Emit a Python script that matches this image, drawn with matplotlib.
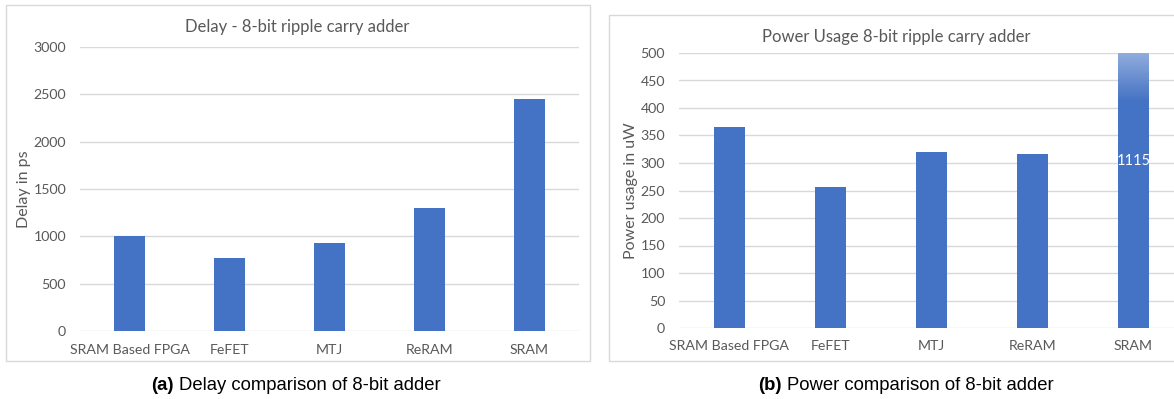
import numpy as np
import matplotlib
matplotlib.use("Agg")
import matplotlib.pyplot as plt
from matplotlib.patches import Rectangle

# Data
technologies = ["SRAM Based FPGA", "FeFET", "MTJ", "ReRAM", "SRAM"]
delay_ps = [1000, 768, 926, 1295, 2446]
power_uw = [366, 256, 320, 317, 1115]
delay_ticks = [0, 500, 1000, 1500, 2000, 2500, 3000]
power_ticks = [0, 50, 100, 150, 200, 250, 300, 350, 400, 450, 500]

BAR = "#4472C4"
TEXT = "#595959"
GRID = "#D9D9D9"
FONT = "Lato"

W, H = 1174, 399
fig = plt.figure(figsize=(W / 100, H / 100), dpi=100)
fig.patch.set_facecolor("white")


def fx(px):
    return px / W


def fy(py):
    return (H - py) / H


# Chart-area borders
for x0, x1, y0, y1 in [(6, 590, 4.5, 361), (609, 1190, 15, 361)]:
    fig.patches.append(Rectangle((fx(x0), fy(y1)), fx(x1 - x0), fy(y0) - fy(y1),
                                 transform=fig.transFigure, fill=False,
                                 edgecolor=GRID, linewidth=1.0, zorder=0))


def style_axes(ax, ticks, ylim):
    ax.set_ylim(*ylim)
    ax.set_xlim(-0.5, len(technologies) - 0.5)
    ax.set_yticks(ticks)
    ax.set_xticks(range(len(technologies)))
    ax.set_xticklabels(technologies)
    for s in ax.spines.values():
        s.set_visible(False)
    ax.tick_params(axis="both", length=0, colors=TEXT, labelsize=10.2)
    ax.tick_params(axis="y", pad=10)
    ax.tick_params(axis="x", pad=9)
    for lbl in ax.get_xticklabels() + ax.get_yticklabels():
        lbl.set_fontfamily(FONT)
    for t in ticks:
        ax.axhline(t, color=GRID, linewidth=1.0, zorder=0)
    ax.set_facecolor("none")


# (a) Delay
ax1 = fig.add_axes([fx(80), fy(331), fx(579 - 80), fy(47) - fy(331)])
x = np.arange(len(technologies))
ax1.bar(x, delay_ps, width=0.31, color=BAR, zorder=2)
style_axes(ax1, delay_ticks, (0, 3000))
ax1.set_ylabel("Delay in ps", color=TEXT, fontsize=11.5, fontfamily=FONT, labelpad=2)
fig.text(fx(297), fy(27), "Delay - 8-bit ripple carry adder", ha="center", va="center",
         color=TEXT, fontsize=12, fontfamily=FONT)

# (b) Power
ax2 = fig.add_axes([fx(679), fy(328), fx(505), fy(53) - fy(328)])
bars = ax2.bar(x, power_uw, width=0.31, color=BAR, zorder=2)
style_axes(ax2, power_ticks, (0, 500))
ax2.set_ylabel("Power usage in uW", color=TEXT, fontsize=11.5, fontfamily=FONT, labelpad=2)
fig.text(fx(896), fy(37), "Power Usage 8-bit ripple carry adder", ha="center", va="center",
         color=TEXT, fontsize=12, fontfamily=FONT)

# Off-scale bar: fade toward the top edge and print its value
sram = bars[-1]
bx0 = sram.get_x()
bx1 = bx0 + sram.get_width()
fade = np.zeros((64, 1, 4))
fade[..., :3] = 1.0
fade[:, 0, 3] = np.linspace(0.42, 0.0, 64)
ax2.imshow(fade, extent=[bx0, bx1, 410, 500], origin="upper", aspect="auto",
           interpolation="bilinear", zorder=3)
ax2.set_xlim(-0.5, len(technologies) - 0.5)
ax2.set_ylim(0, 500)
ax2.text(sram.get_x() + sram.get_width() / 2, 0.608, f"{power_uw[-1]}",
         transform=ax2.get_xaxis_transform(), ha="center", va="center",
         color="white", fontsize=10.5, fontfamily=FONT, zorder=4)

# Sub-captions
for xb, bold, rest in [(174, "(a)", "Delay comparison of 8-bit adder"),
                       (782, "(b)", "Power comparison of 8-bit adder")]:
    fig.text(fx(xb), fy(386), bold, ha="right", va="center", fontsize=13.3,
             fontweight="bold", fontfamily="Liberation Sans", color="black")
    fig.text(fx(xb + 5), fy(386), rest, ha="left", va="center", fontsize=13.3,
             fontfamily="Liberation Sans", color="black")

fig.savefig("out.png", dpi=100, facecolor="white")
